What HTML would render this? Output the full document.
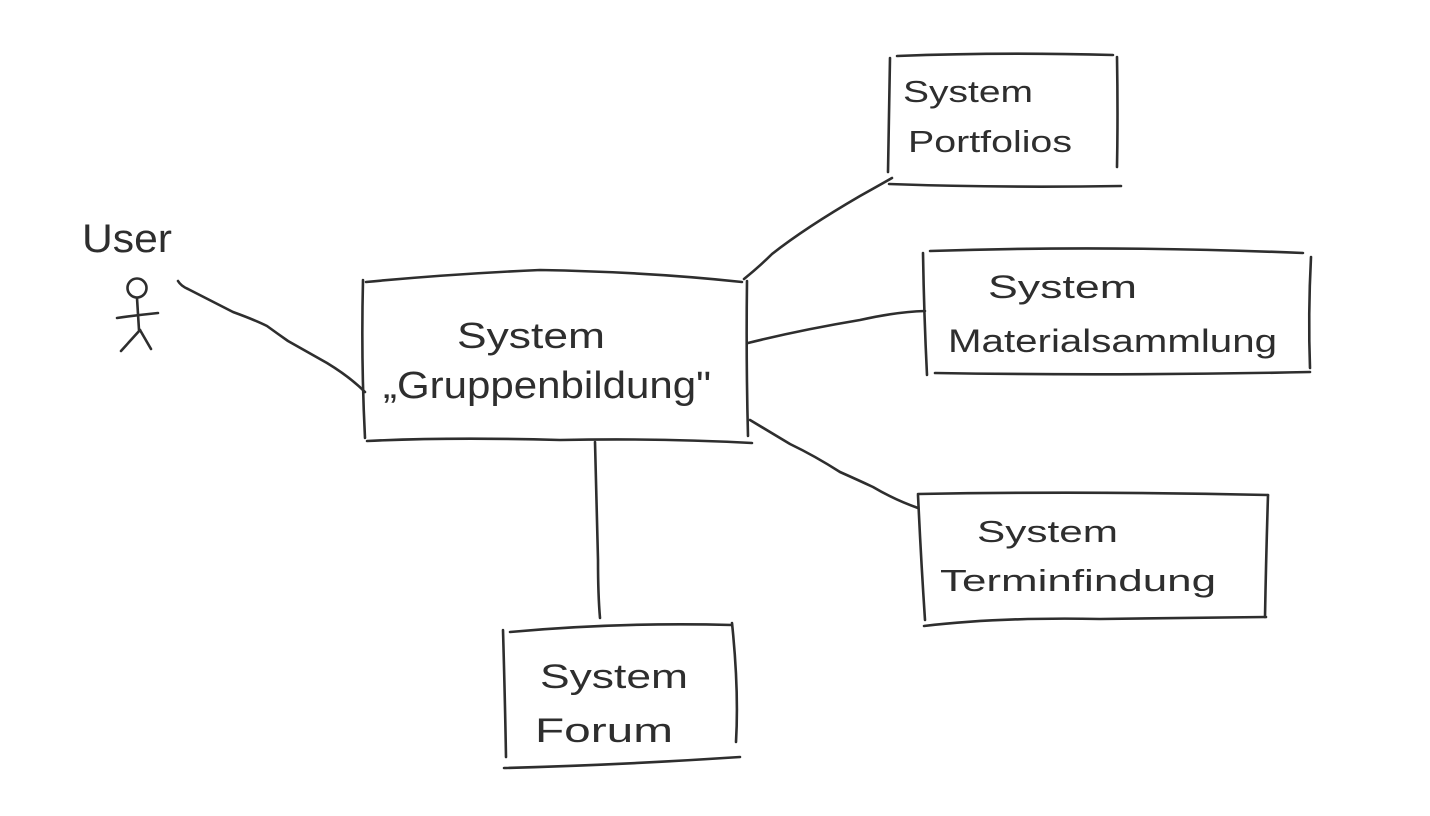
<!DOCTYPE html>
<html>
<head>
<meta charset="utf-8">
<style>
  html,body{margin:0;padding:0;background:#fff;}
  svg{display:block;}
  text{font-family:"Liberation Sans", "DejaVu Sans", sans-serif;fill:#2e2e2e;}
</style>
</head>
<body>
<svg width="1430" height="816" viewBox="0 0 1430 816" xmlns="http://www.w3.org/2000/svg">
  <rect width="1430" height="816" fill="#fff"/>
  <g fill="none" stroke="#2e2e2e" stroke-width="2.6" stroke-linecap="round" stroke-linejoin="round">
    <!-- User stick figure -->
    <circle cx="137" cy="288" r="9.5"/>
    <path d="M137 298 L139 330"/>
    <path d="M117 318 Q138 315 158 313"/>
    <path d="M140 330 L121 351"/>
    <path d="M140 330 L151 349"/>
    <!-- User connector -->
    <path d="M178 281 Q181 286 188 289 L233 312 Q255 320 267 326 Q278 334 288 341 L327 363 Q350 377 365 392"/>

    <!-- Main box -->
    <path d="M366 282 Q450 274 540 270 Q650 272 742 282"/>
    <path d="M363 280 Q361 360 365 438"/>
    <path d="M367 441 Q450 437 560 440 Q660 438 752 443"/>
    <path d="M747 281 Q746 360 748 436"/>

    <!-- Connector to Portfolios -->
    <path d="M744 279 Q760 266 772 254 Q805 228 860 196 Q878 186 892 178"/>
    <!-- Connector to Materialsammlung -->
    <path d="M748 343 Q800 330 860 320 Q895 312 925 311"/>
    <!-- Connector to Terminfindung -->
    <path d="M750 420 Q770 432 790 444 Q815 456 840 472 Q858 480 873 487 Q895 500 918 508"/>
    <!-- Connector to Forum -->
    <path d="M595 442 Q597 520 598 560 Q598 595 600 618"/>

    <!-- Portfolios box -->
    <path d="M897 56 Q1000 52 1113 55"/>
    <path d="M890 58 Q889 120 888 172"/>
    <path d="M889 184 Q1000 188 1121 186"/>
    <path d="M1117 57 Q1118 115 1117 167"/>

    <!-- Materialsammlung box -->
    <path d="M930 251 Q1110 245 1303 253"/>
    <path d="M923 253 Q924 315 927 375"/>
    <path d="M935 373 Q1120 376 1310 372"/>
    <path d="M1311 257 Q1308 315 1310 368"/>

    <!-- Terminfindung box -->
    <path d="M918 494 Q1090 491 1268 495"/>
    <path d="M918 495 Q921 560 925 620"/>
    <path d="M924 626 Q1000 617 1100 619 Q1190 618 1266 617"/>
    <path d="M1268 495 Q1266 560 1265 617"/>

    <!-- Forum box -->
    <path d="M510 632 Q620 622 732 625"/>
    <path d="M503 630 Q505 700 506 757"/>
    <path d="M504 768 Q620 765 740 757"/>
    <path d="M732 623 Q739 690 736 742"/>
  </g>

  <!-- Labels -->
  <text x="82" y="252" font-size="40" textLength="90" lengthAdjust="spacingAndGlyphs">User</text>

  <text x="457" y="348" font-size="36" textLength="148" lengthAdjust="spacingAndGlyphs">System</text>
  <text x="383" y="398" font-size="38" textLength="328" lengthAdjust="spacingAndGlyphs">„Gruppenbildung"</text>

  <text x="903" y="102" font-size="31" textLength="130" lengthAdjust="spacingAndGlyphs">System</text>
  <text x="908" y="152" font-size="31" textLength="164" lengthAdjust="spacingAndGlyphs">Portfolios</text>

  <text x="988" y="298" font-size="32" textLength="149" lengthAdjust="spacingAndGlyphs">System</text>
  <text x="948" y="352" font-size="32" textLength="329" lengthAdjust="spacingAndGlyphs">Materialsammlung</text>

  <text x="977" y="542" font-size="31" textLength="141" lengthAdjust="spacingAndGlyphs">System</text>
  <text x="940" y="591" font-size="31" textLength="276" lengthAdjust="spacingAndGlyphs">Terminfindung</text>

  <text x="540" y="688" font-size="34" textLength="148" lengthAdjust="spacingAndGlyphs">System</text>
  <text x="535" y="742" font-size="34" textLength="138" lengthAdjust="spacingAndGlyphs">Forum</text>
</svg>
</body>
</html>
